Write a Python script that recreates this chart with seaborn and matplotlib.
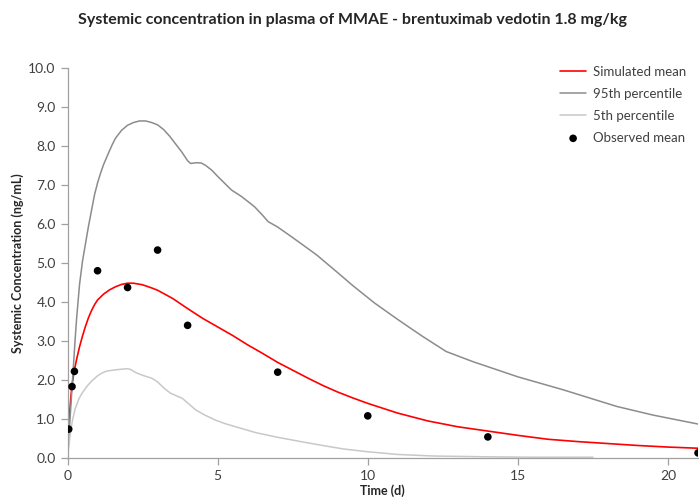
import seaborn as sns
import pandas as pd
import matplotlib.pyplot as plt

# Simulated mean (red)
mean_t = [0, 0.03, 0.07, 0.1, 0.13, 0.17, 0.22, 0.3, 0.4, 0.5, 0.6, 0.7, 0.8, 0.9, 1.0,
          1.2, 1.4, 1.6, 1.8, 2.0, 2.2, 2.5, 2.8, 3.0, 3.5, 4.0, 4.5, 5.0, 5.5, 6.0, 6.5,
          7.0, 7.5, 8.0, 8.5, 9.0, 9.5, 10, 11, 12, 13, 14, 15, 16, 17, 18, 19, 20, 21]
mean_c = [0.42, 0.72, 1.15, 1.45, 1.72, 1.97, 2.22, 2.52, 2.85, 3.13, 3.38, 3.6, 3.78, 3.93, 4.05,
          4.2, 4.31, 4.39, 4.45, 4.48, 4.48, 4.44, 4.36, 4.30, 4.09, 3.83, 3.58, 3.36, 3.14, 2.90,
          2.68, 2.45, 2.25, 2.05, 1.86, 1.69, 1.54, 1.40, 1.15, 0.95, 0.80, 0.69, 0.58, 0.48, 0.42,
          0.37, 0.32, 0.28, 0.25]

# 95th percentile (dark grey)
p95_t = [0, 0.05, 0.1, 0.15, 0.2, 0.25, 0.3, 0.4, 0.5, 0.6, 0.7, 0.8, 0.9, 1.0, 1.1, 1.2,
         1.3, 1.4, 1.5, 1.6, 1.8, 2.0, 2.2, 2.4, 2.6, 2.8, 3.0, 3.2, 3.4, 3.6, 3.8, 4.0,
         4.1, 4.3, 4.46, 4.6, 4.8, 5.0, 5.46, 5.8, 6.23, 6.5, 6.68, 7.0, 7.5, 8.29, 9.0,
         9.5, 10.23, 11, 11.8, 12.61, 13.5, 15.0, 16.5, 18.3, 19.5, 21]
p95_c = [0.0, 0.6, 1.2, 1.8, 2.4, 3.0, 3.55, 4.45, 5.05, 5.5, 5.95, 6.35, 6.75, 7.05, 7.3, 7.52,
         7.7, 7.88, 8.05, 8.2, 8.4, 8.53, 8.6, 8.64, 8.64, 8.6, 8.54, 8.42, 8.25, 8.05, 7.85, 7.62,
         7.55, 7.57, 7.56, 7.5, 7.38, 7.22, 6.87, 6.7, 6.44, 6.22, 6.06, 5.92, 5.65, 5.21, 4.75,
         4.42, 3.97, 3.55, 3.13, 2.73, 2.47, 2.08, 1.75, 1.32, 1.10, 0.87]

# 5th percentile (light grey)
p5_t = [0, 0.08, 0.16, 0.25, 0.38, 0.5, 0.66, 0.8, 0.99, 1.15, 1.32, 1.6, 1.99, 2.1, 2.27,
        2.5, 2.82, 3.0, 3.2, 3.43, 3.82, 4.05, 4.27, 4.6, 4.93, 5.25, 5.6, 6.27, 7.0, 7.77,
        8.5, 9.2, 10, 11, 12.2, 14, 15.5, 17.5]
p5_c = [0.03, 0.55, 0.95, 1.25, 1.52, 1.68, 1.85, 1.97, 2.1, 2.18, 2.23, 2.26, 2.29, 2.27, 2.19,
        2.12, 2.04, 1.95, 1.80, 1.66, 1.53, 1.38, 1.23, 1.09, 0.97, 0.88, 0.80, 0.65, 0.53, 0.42,
        0.32, 0.23, 0.16, 0.09, 0.05, 0.03, 0.02, 0.02]

# Observed mean
obs_t = [0.04, 0.15, 0.23, 1, 2, 3, 4, 7, 10, 14, 21]
obs_c = [0.74, 1.83, 2.22, 4.80, 4.37, 5.33, 3.40, 2.20, 1.08, 0.54, 0.13]

sns.set_style('ticks')
plt.rcParams['font.family'] = ['Lato', 'DejaVu Sans']

fig = plt.figure(figsize=(6.99, 5.04), dpi=100)
ax = fig.add_axes([0.0966, 0.0913, 0.902, 0.774])

sns.lineplot(x=mean_t, y=mean_c, ax=ax, color='#ff0000', linewidth=1.2,
             label='Simulated mean', sort=False)
sns.lineplot(x=p95_t, y=p95_c, ax=ax, color='#8c8c8c', linewidth=1.1,
             label='95th percentile', sort=False)
sns.lineplot(x=p5_t, y=p5_c, ax=ax, color='#c8c8c8', linewidth=1.1,
             label='5th percentile', sort=False)
sns.scatterplot(x=obs_t, y=obs_c, ax=ax, color='black', s=30, edgecolor='none',
                label='Observed mean', zorder=5)

ax.set_xlim(0, 21)
ax.set_ylim(0, 10)
ax.set_xticks([0, 5, 10, 15, 20])
ax.set_yticks([i for i in range(11)])
ax.set_yticklabels([f'{i:.1f}' for i in range(11)])

for s in ['top', 'right']:
    ax.spines[s].set_visible(False)
for s in ['left', 'bottom']:
    ax.spines[s].set_color('#a0a0a0')
    ax.spines[s].set_linewidth(0.9)
ax.tick_params(colors='#a0a0a0', labelcolor='#404040', labelsize=10, length=5, width=0.9)

ax.set_xlabel('Time (d)', fontsize=9, fontweight='bold', labelpad=2)
ax.set_ylabel('Systemic Concentration (ng/mL)', fontsize=9, fontweight='bold', labelpad=3)

fig.suptitle('Systemic concentration in plasma of MMAE - brentuximab vedotin 1.8 mg/kg',
             fontsize=11.5, fontweight='bold', x=0.505, y=0.975)

ax.legend(loc='upper right', bbox_to_anchor=(1.0, 1.035), frameon=False, fontsize=9.5,
          handlelength=2.0, handletextpad=0.5, labelspacing=0.75, labelcolor='#404040')

plt.savefig('out.png')
